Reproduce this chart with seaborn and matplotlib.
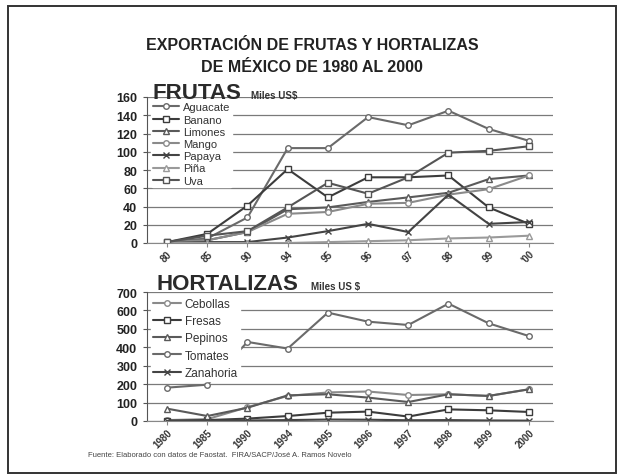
import matplotlib
matplotlib.use("Agg")
import matplotlib.pyplot as plt
import seaborn as sns
import pandas as pd
from matplotlib.patches import Rectangle

# --- data (miles de US$) ---
years_fr = ["80", "85", "90", "94", "95", "96", "97", "98", "99", "'00"]
aguacate = [1, 5, 28, 104, 104, 138, 129, 145, 125, 112]
banano = [1, 10, 41, 81, 50, 72, 72, 74, 39, 21]
limones = [1, 3, 12, 37, 39, 45, 50, 55, 70, 74]
mango = [1, 3, 12, 32, 34, 43, 44, 53, 59, 74]
papaya = [0, 1, 1, 6, 13, 21, 12, 53, 21, 23]
pina = [0, 0, 0, 0, 1, 2, 3, 5, 6, 8]
uva = [1, 8, 13, 39, 66, 54, 72, 99, 101, 106]

years_ho = ["1980", "1985", "1990", "1994", "1995", "1996", "1997", "1998", "1999", "2000"]
cebollas = [5, 10, 75, 136, 155, 160, 141, 145, 136, 172]
fresas = [2, 5, 13, 27, 45, 51, 24, 63, 58, 49]
pepinos = [67, 27, 72, 139, 145, 127, 103, 145, 136, 172]
tomates = [181, 197, 429, 393, 588, 539, 521, 637, 530, 461]
zanahoria = [0, 2, 3, 5, 8, 7, 4, 5, 3, 2]

frutas = {"Aguacate": aguacate, "Banano": banano, "Limones": limones,
          "Mango": mango, "Papaya": papaya, "Piña": pina, "Uva": uva}
hortalizas = {"Cebollas": cebollas, "Fresas": fresas, "Pepinos": pepinos,
              "Tomates": tomates, "Zanahoria": zanahoria}

style_fr = {"Aguacate": ("#6a6a6a", "o"), "Banano": ("#3c3c3c", "s"),
            "Limones": ("#5a5a5a", "^"), "Mango": ("#8a8a8a", "o"),
            "Papaya": ("#444444", "x"), "Piña": ("#9a9a9a", "^"),
            "Uva": ("#555555", "s")}
style_ho = {"Cebollas": ("#8a8a8a", "o"), "Fresas": ("#3c3c3c", "s"),
            "Pepinos": ("#5a5a5a", "^"), "Tomates": ("#6a6a6a", "o"),
            "Zanahoria": ("#444444", "x")}

sns.set_style("white")
plt.rcParams["font.family"] = ["Liberation Sans", "DejaVu Sans"]

fig = plt.figure(figsize=(6.24, 4.77), dpi=100)
fig.patches.append(Rectangle((8 / 624, 3 / 477), 608 / 624, 467 / 477,
                             transform=fig.transFigure, fill=False,
                             edgecolor="#333333", linewidth=1.4))

ax1 = fig.add_axes([147 / 624, 1 - 244 / 477, 406 / 624, 146 / 477])
ax2 = fig.add_axes([147 / 624, 1 - 422 / 477, 406 / 624, 129 / 477])


def draw_panel(ax, years, series, styles, ymax, ystep, leg_fs, leg_sp, leg_top):
    for name, vals in series.items():
        col, mk = styles[name]
        df = pd.DataFrame({"year": years, "value": vals})
        sns.lineplot(data=df, x="year", y="value", ax=ax, color=col, marker=mk,
                     markersize=4, markerfacecolor="white", markeredgecolor=col,
                     markeredgewidth=1.0, linewidth=1.5, label=name, sort=False)
    ax.set_ylim(0, ymax)
    ax.set_xlim(-0.5, 9.6)
    ax.set_yticks(range(0, ymax + 1, ystep))
    ax.yaxis.grid(True, color="#7a7a7a", linewidth=0.9)
    ax.set_axisbelow(True)
    for s in ["top", "right"]:
        ax.spines[s].set_visible(False)
    ax.spines["left"].set_color("#555555")
    ax.spines["bottom"].set_color("#888888")
    ax.set_xlabel("")
    ax.set_ylabel("")
    ax.tick_params(axis="y", length=3, direction="out", left=True, color="#555555",
                   labelsize=9, pad=4)
    ax.tick_params(axis="x", length=3, direction="out", bottom=True, color="#888888",
                   labelsize=7, pad=1)
    for lab in ax.get_yticklabels():
        lab.set_fontweight("bold")
        lab.set_color("#222222")
    for lab in ax.get_xticklabels():
        lab.set_rotation(45)
        lab.set_ha("right")
        lab.set_rotation_mode("anchor")
        lab.set_fontweight("bold")
        lab.set_color("#333333")
    leg = ax.legend(loc="upper left", bbox_to_anchor=(0.01, leg_top), frameon=True,
                    fontsize=leg_fs, labelspacing=leg_sp, handlelength=2.4,
                    handletextpad=0.3, borderpad=0.15, borderaxespad=0)
    leg.get_frame().set_facecolor("white")
    leg.get_frame().set_edgecolor("white")
    leg.get_frame().set_alpha(1)
    for t in leg.get_texts():
        t.set_color("#333333")
    return leg


draw_panel(ax1, years_fr, frutas, style_fr, 160, 20, 8, 0.2, 0.975)
draw_panel(ax2, years_ho, hortalizas, style_ho, 700, 100, 8.5, 0.45, 0.97)

fig.text(152 / 624, 1 - 99 / 477, "FRUTAS", fontsize=16, fontweight="bold",
         color="#2a2a2a", ha="left", va="baseline")
fig.text(251 / 624, 1 - 99 / 477, "Miles US$", fontsize=7, fontweight="bold",
         color="#333333", ha="left", va="baseline")
fig.text(156 / 624, 1 - 290 / 477, "HORTALIZAS", fontsize=16, fontweight="bold",
         color="#2a2a2a", ha="left", va="baseline")
fig.text(311 / 624, 1 - 290 / 477, "Miles US $", fontsize=7, fontweight="bold",
         color="#333333", ha="left", va="baseline")

fig.text(0.5, 1 - 45 / 477, "EXPORTACIÓN DE FRUTAS Y HORTALIZAS", fontsize=11.5,
         fontweight="bold", color="#222222", ha="center", va="center")
fig.text(0.5, 1 - 68 / 477, "DE MÉXICO DE 1980 AL 2000", fontsize=11.5,
         fontweight="bold", color="#222222", ha="center", va="center")

fig.text(88 / 624, 1 - 456 / 477,
         "Fuente: Elaborado con datos de Faostat.  FIRA/SACP/José A. Ramos Novelo",
         fontsize=5.5, color="#444444", ha="left", va="center")

fig.savefig("out.png", dpi=100, facecolor="white")
